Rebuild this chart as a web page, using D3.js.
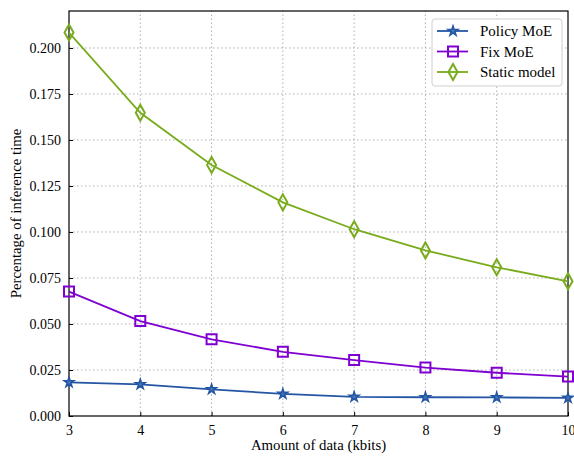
<!DOCTYPE html>
<html>
<head>
<meta charset="utf-8">
<script src="https://cdn.jsdelivr.net/npm/d3@7"></script>
<style>
  body { margin: 0; background: #fff; }
  svg text { font-family: "Liberation Serif", "Times New Roman", serif; }
</style>
</head>
<body>
<svg id="chart"></svg>
<script>
const width = 574;
const height = 456;
const margin = { top: 11, right: 6, bottom: 40, left: 69 };

const dataAmounts = [3, 4, 5, 6, 7, 8, 9, 10];
const policyMoE = [0.0183, 0.0172, 0.0145, 0.0120, 0.0104, 0.0102, 0.0101, 0.0098];
const fixMoE = [0.0676, 0.0516, 0.0417, 0.0349, 0.0304, 0.0263, 0.0235, 0.0214];
const staticModel = [0.2084, 0.1648, 0.1364, 0.1161, 0.1015, 0.0900, 0.0808, 0.0732];
const yTicks = [0, 0.025, 0.05, 0.075, 0.1, 0.125, 0.15, 0.175, 0.2];

const series = [
  { name: "Policy MoE", values: policyMoE, color: "#2456a4", marker: "star" },
  { name: "Fix MoE", values: fixMoE, color: "#7f00d0", marker: "square" },
  { name: "Static model", values: staticModel, color: "#78ac1c", marker: "diamond" }
];

const svg = d3.select("#chart")
  .attr("width", width)
  .attr("height", height);

const x = d3.scaleLinear()
  .domain([3, 10])
  .range([margin.left, width - margin.right]);

const y = d3.scaleLinear()
  .domain([0, 0.2201])
  .range([height - margin.bottom, margin.top]);

// grid
svg.append("g")
  .selectAll("line")
  .data(dataAmounts.slice(1, -1))
  .enter().append("line")
  .attr("x1", d => x(d)).attr("x2", d => x(d))
  .attr("y1", y.range()[0]).attr("y2", y.range()[1])
  .attr("stroke", "#b0b0b0").attr("stroke-width", 1)
  .attr("stroke-dasharray", "1.5,2.5");

svg.append("g")
  .selectAll("line")
  .data(yTicks.slice(1))
  .enter().append("line")
  .attr("x1", x.range()[0]).attr("x2", x.range()[1])
  .attr("y1", d => y(d)).attr("y2", d => y(d))
  .attr("stroke", "#b0b0b0").attr("stroke-width", 1)
  .attr("stroke-dasharray", "1.5,2.5");

// axes with inward ticks
const xAxis = d3.axisBottom(x).tickValues(dataAmounts).tickFormat(d3.format("d"))
  .tickSizeInner(-4).tickSizeOuter(0).tickPadding(9);
const yAxis = d3.axisLeft(y).tickValues(yTicks).tickFormat(d3.format(".3f"))
  .tickSizeInner(-4).tickSizeOuter(0).tickPadding(8);

const gx = svg.append("g")
  .attr("transform", `translate(0, ${height - margin.bottom})`)
  .call(xAxis);
const gy = svg.append("g")
  .attr("transform", `translate(${margin.left}, 0)`)
  .call(yAxis);

[gx, gy].forEach(g => {
  g.select(".domain").remove();
  g.selectAll("text").attr("font-size", 14).attr("fill", "#000");
  g.selectAll("line").attr("stroke", "#000");
});

// frame
svg.append("rect")
  .attr("x", margin.left).attr("y", margin.top)
  .attr("width", width - margin.left - margin.right)
  .attr("height", height - margin.top - margin.bottom)
  .attr("fill", "none").attr("stroke", "#000").attr("stroke-width", 1.2);

function markerPath(type) {
  if (type === "star") return d3.symbol(d3.symbolStar, 28)();
  if (type === "square") return "M-5,-5H5V5H-5Z";
  return "M0,-8L4.5,0L0,8L-4.5,0Z";
}

function drawMarker(g, type, color) {
  g.append("path")
    .attr("d", markerPath(type))
    .attr("fill", type === "star" ? "#4a78c0" : "none")
    .attr("stroke", color)
    .attr("stroke-width", type === "star" ? 1.6 : 2);
}

const line = d3.line()
  .x((d, i) => x(dataAmounts[i]))
  .y(d => y(d));

series.forEach(s => {
  svg.append("path")
    .datum(s.values)
    .attr("d", line)
    .attr("fill", "none")
    .attr("stroke", s.color)
    .attr("stroke-width", 1.8);

  s.values.forEach((v, i) => {
    const g = svg.append("g")
      .attr("transform", `translate(${x(dataAmounts[i])}, ${y(v)})`);
    drawMarker(g, s.marker, s.color);
  });
});

// axis labels
svg.append("text")
  .attr("x", (margin.left + width - margin.right) / 2)
  .attr("y", 450)
  .attr("text-anchor", "middle")
  .attr("font-size", 14.8)
  .text("Amount of data (kbits)");

svg.append("text")
  .attr("transform", `translate(21, ${(margin.top + height - margin.bottom) / 2}) rotate(-90)`)
  .attr("text-anchor", "middle")
  .attr("font-size", 14.8)
  .text("Percentage of inference time");

// legend
const legend = svg.append("g").attr("transform", "translate(432, 19)");
legend.append("rect")
  .attr("width", 130).attr("height", 67)
  .attr("rx", 3)
  .attr("fill", "#fff").attr("stroke", "#d0d0d0").attr("stroke-width", 1);

series.forEach((s, i) => {
  const row = legend.append("g").attr("transform", `translate(0, ${12 + i * 20.5})`);
  row.append("line")
    .attr("x1", 5).attr("x2", 36)
    .attr("stroke", s.color).attr("stroke-width", 1.8);
  const m = row.append("g").attr("transform", "translate(21, 0)");
  drawMarker(m, s.marker, s.color);
  row.append("text")
    .attr("x", 48).attr("y", 5)
    .attr("font-size", 15)
    .text(s.name);
});
</script>
</body>
</html>
